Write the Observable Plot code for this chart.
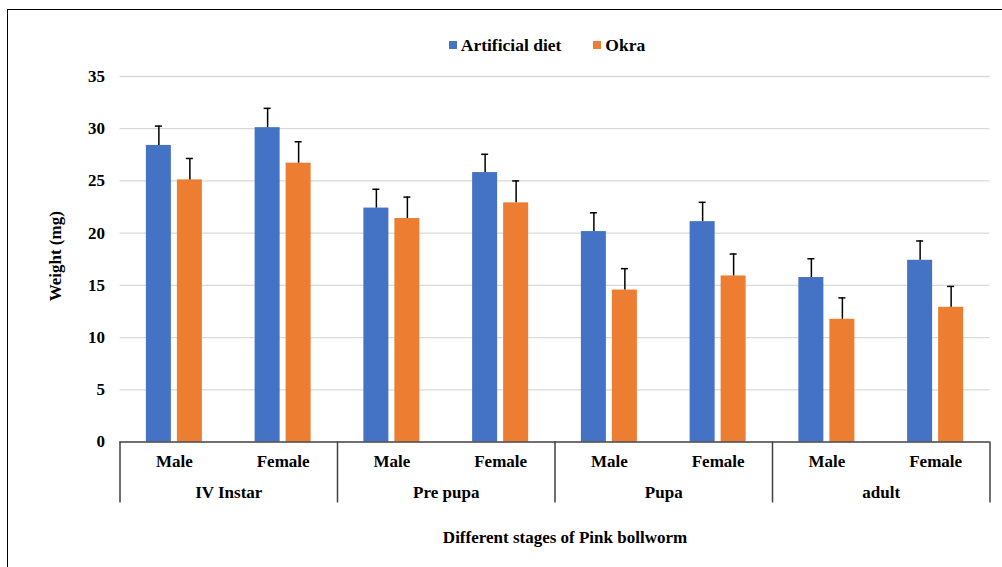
<!DOCTYPE html>
<html>
<head>
<meta charset="utf-8">
<script src="https://cdn.jsdelivr.net/npm/d3@7"></script>
<script src="https://cdn.jsdelivr.net/npm/@observablehq/plot@0.6"></script>
<style>
  html, body { margin: 0; padding: 0; background: #fff; }
  #wrap { position: relative; width: 1002px; height: 567px; overflow: hidden; font-family: "Liberation Serif", "Times New Roman", "DejaVu Serif", serif; }
  #frame { position: absolute; left: 7px; top: 9px; width: 1100px; height: 700px; border: 1.5px solid #000; box-sizing: border-box; }
  #chart { position: absolute; left: 0; top: 0; }
  #chart svg text { font-family: "Liberation Serif", "Times New Roman", "DejaVu Serif", serif !important; }
  #legend { position: absolute; left: 1px; top: 33px; width: 1092px; text-align: center; font-weight: bold; font-size: 17.5px; color: #000; white-space: nowrap; }
  #legend .item { display: inline-flex; align-items: center; margin: 0 16px; }
  #legend .sw { display: inline-block; width: 8px; height: 8px; margin-right: 4px; }
</style>
</head>
<body>
<div id="wrap">
  <div id="frame"></div>
  <div id="chart"></div>
  <div id="legend"></div>
</div>
<script>
// ---- data ----
const stages = ["IV Instar", "Pre pupa", "Pupa", "adult"];
const sexes = ["Male", "Female"];
const series = ["Artificial diet", "Okra"];
const colors = ["#4472c4", "#ed7d31"];
const yTicks = [0, 5, 10, 15, 20, 25, 30, 35];

// order: IV Male, IV Female, Pre Male, Pre Female, Pupa Male, Pupa Female, adult Male, adult Female
const artificial    = [28.4, 30.1, 22.4, 25.8, 20.15, 21.1, 15.75, 17.4];
const artificialErr = [1.85, 1.85, 1.8, 1.75, 1.8, 1.85, 1.8, 1.85];
const okra          = [25.1, 26.7, 21.4, 22.9, 14.55, 15.9, 11.75, 12.9];
const okraErr       = [2.05, 2.05, 2.05, 2.1, 2.05, 2.1, 2.05, 2.0];

const xTitle = "Different stages of Pink bollworm";
const yTitle = "Weight (mg)";

// ---- build rows ----
const rows = [];
stages.forEach((stage, s) => sexes.forEach((sex, k) => {
  const i = s * sexes.length + k;
  rows.push({i, stage, sex, art: artificial[i], artErr: artificialErr[i], okra: okra[i], okraErr: okraErr[i]});
}));
const groups = stages.map((stage, s) => ({stage, start: s * sexes.length, mid: s * sexes.length + sexes.length / 2}));
const bounds = d3.range(stages.length + 1).map(s => s * sexes.length);

const font = "'Liberation Serif', 'Times New Roman', 'DejaVu Serif', serif";
const W = 1002, H = 567;
const mL = 119.5, mR = 12.5, mT = 76, mB = 125.5;
const band = (W - mL - mR) / rows.length;
const barW = 25, gap = 6;
const off = (barW + gap) / 2;          // center offset of each bar from category center
const inOuter = band / 2 - gap / 2 - barW;
const inInner = band / 2 + gap / 2;
const axisColor = "#404040";
const txt = {fontSize: 17, fontWeight: "bold", fill: "#000", fontFamily: font};

const plot = Plot.plot({
  width: W, height: H,
  marginLeft: mL, marginRight: mR, marginTop: mT, marginBottom: mB,
  style: {fontFamily: font, fontSize: "17px", fontWeight: "bold", color: "#000", background: "transparent"},
  x: {type: "linear", domain: [0, rows.length], axis: null},
  y: {domain: [0, 35], ticks: yTicks, axis: null},
  marks: [
    Plot.gridY(yTicks.filter(t => t > 0), {stroke: "#d9d9d9", strokeOpacity: 1, strokeWidth: 1.3}),
    Plot.axisY(yTicks, {tickSize: 0, tickPadding: 15, label: null, ...txt}),
    // bars
    Plot.rectY(rows, {x1: d => d.i, x2: d => d.i + 1, y1: 0, y2: "art", fill: colors[0], insetLeft: inOuter, insetRight: inInner}),
    Plot.rectY(rows, {x1: d => d.i, x2: d => d.i + 1, y1: 0, y2: "okra", fill: colors[1], insetLeft: inInner, insetRight: inOuter}),
    // error bars
    Plot.ruleX(rows, {x: d => d.i + 0.5, y1: "art", y2: d => d.art + d.artErr, dx: -off, stroke: "#000", strokeWidth: 1.5}),
    Plot.ruleX(rows, {x: d => d.i + 0.5, y1: "okra", y2: d => d.okra + d.okraErr, dx: off, stroke: "#000", strokeWidth: 1.5}),
    Plot.ruleY(rows, {y: d => d.art + d.artErr, x1: d => d.i + 0.5, x2: d => d.i + 0.5, dx: -off, insetLeft: -3.5, insetRight: -3.5, stroke: "#000", strokeWidth: 1.5}),
    Plot.ruleY(rows, {y: d => d.okra + d.okraErr, x1: d => d.i + 0.5, x2: d => d.i + 0.5, dx: off, insetLeft: -3.5, insetRight: -3.5, stroke: "#000", strokeWidth: 1.5}),
    // baseline
    Plot.ruleY([0], {stroke: axisColor, strokeWidth: 1.5}),
    // group dividers below the axis
    Plot.ruleX(bounds, {stroke: axisColor, strokeWidth: 1.5, insetTop: H - mT - mB, insetBottom: -61}),
    // sex labels
    Plot.text(rows, {x: d => d.i + 0.5, text: "sex", frameAnchor: "bottom", lineAnchor: "middle", dy: 20, ...txt}),
    // stage labels
    Plot.text(groups, {x: "mid", text: "stage", frameAnchor: "bottom", lineAnchor: "middle", dy: 51, ...txt}),
    // axis titles
    Plot.text([xTitle], {frameAnchor: "bottom", lineAnchor: "middle", dx: 10, dy: 96, ...txt}),
    Plot.text([yTitle], {frameAnchor: "left", textAnchor: "middle", lineAnchor: "middle", dx: 55.5 - mL, dy: -3, rotate: -90, ...txt})
  ]
});
document.getElementById("chart").appendChild(plot);

// legend
const legend = document.getElementById("legend");
series.forEach((name, j) => {
  const item = document.createElement("span");
  item.className = "item";
  const sw = document.createElement("span");
  sw.className = "sw";
  sw.style.background = colors[j];
  item.appendChild(sw);
  item.appendChild(document.createTextNode(name));
  legend.appendChild(item);
});
</script>
</body>
</html>
